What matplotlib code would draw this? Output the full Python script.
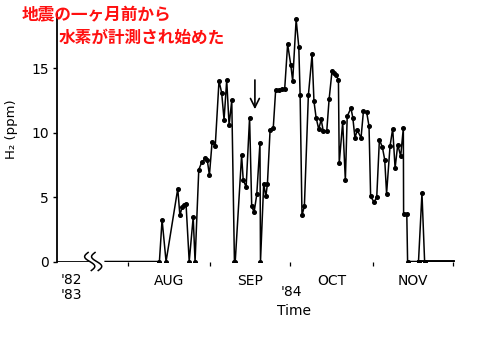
import matplotlib
matplotlib.use('Agg')
import matplotlib.pyplot as plt
import numpy as np

# days since 1 Aug 1984
days = [-8.6, 11.8, 12.8, 14.3, 18.7, 19.5, 20.3, 21.1, 21.8, 23.0, 24.5, 25.2,
        26.6, 27.7, 29.1, 29.8, 30.6, 31.6, 32.8, 34.2, 35.2, 36.1, 37.1, 38.0,
        39.0, 40.0, 40.3, 42.7, 43.3, 44.4, 45.7, 46.5, 47.4, 48.4, 49.6, 49.8,
        51.0, 51.8, 52.4, 53.4, 54.6, 55.5, 56.9, 57.9, 58.9, 60.0, 61.2, 61.9,
        63.2, 64.2, 64.7, 65.4, 66.3, 67.8, 69.2, 69.9, 70.7, 71.7, 72.6, 73.4,
        74.7, 75.6, 76.7, 77.4, 78.2, 79.1, 79.4, 80.7, 81.7, 82.4, 83.8, 84.5,
        85.3, 86.2, 87.6, 88.5, 89.7, 90.6, 91.2, 92.5, 93.5, 94.5, 95.6, 96.5,
        97.2, 98.5, 99.5, 100.4, 101.4, 102.5, 103.5, 103.6, 104.8, 105.1, 109.2,
        110.5, 111.5, 122.2]
h2 = [0, 0, 3.24, 0, 5.65, 3.57, 4.2, 4.4, 4.5, 0, 3.44, 0,
      7.12, 7.7, 8.0, 7.85, 6.7, 9.27, 9.0, 14.0, 13.1, 11.0, 14.06, 10.57,
      12.5, 0, 0, 8.24, 6.35, 5.77, 11.17, 4.27, 3.83, 5.2, 9.19, 0,
      6.04, 5.05, 6.0, 10.18, 10.36, 13.3, 13.3, 13.35, 13.4, 16.86, 15.23, 14.0,
      18.78, 16.65, 12.9, 3.57, 4.3, 12.9, 16.08, 12.43, 11.17, 10.26, 11.03, 10.12,
      10.1, 12.6, 14.8, 14.6, 14.5, 14.06, 7.64, 10.82, 6.29, 11.27, 11.9, 11.17,
      9.6, 10.18, 9.6, 11.66, 11.6, 10.5, 5.05, 4.6, 5.0, 9.45, 8.88, 7.9,
      5.26, 8.96, 10.3, 7.25, 9.07, 8.16, 10.36, 3.7, 3.65, 0, 0,
      5.3, 0, 0]

early_days = [-26.7, -15.5]   # '82-'83 baseline before the axis break
early_h2 = [0, 0]

month_edges = [0, 31, 61, 92, 122]
month_mid = [15.5, 46, 76.5, 107]
month_labels = ['AUG', 'SEP', 'OCT', 'NOV']
y_ticks = [0, 5, 10, 15]
quake_day = 47.7

fig = plt.figure(figsize=(5.0, 3.39), dpi=100)
ax = fig.add_axes([0.114, 0.2286, 0.806, 0.730])
ax.set_xlim(-26.7, 124.8)
ax.set_ylim(0, 19.2)

for s in ['top', 'right', 'bottom']:
    ax.spines[s].set_visible(False)
ax.spines['left'].set_linewidth(1.3)

ax.plot(days, h2, color='black', lw=1.1, zorder=3)
ax.plot(days[1:-1], h2[1:-1], 'o', color='black', ms=2.6, zorder=4)
ax.plot(early_days, early_h2, color='black', lw=2.0, zorder=3)
ax.plot([days[-4], days[-1]], [0, 0], color='black', lw=2.8, zorder=3)

# axis break symbol
for off in [0.0, 2.6]:
    t = np.linspace(0, 1, 40)
    xs = -13.8 + off + 1.6 * np.sin(2 * np.pi * t) - 1.2 * t
    ys = -0.7 + 1.4 * t
    ax.plot(xs, ys, color='black', lw=1.1, clip_on=False, zorder=5)

ax.set_yticks(y_ticks)
ax.set_yticklabels([str(v) for v in y_ticks], fontsize=10)
ax.tick_params(axis='y', direction='out', length=3, width=1, pad=3)

ax.set_xticks(month_edges)
ax.set_xticklabels([''] * len(month_edges))
ax.set_xticks(month_mid, minor=True)
ax.set_xticklabels(month_labels, minor=True, fontsize=10)
ax.tick_params(axis='x', which='major', direction='out', length=3, width=0.9)
ax.tick_params(axis='x', which='minor', length=0, pad=9)

ax.text(-21.3, -1.45, "'82", ha='center', va='center', fontsize=10)
ax.text(-21.3, -2.6, "'83", ha='center', va='center', fontsize=10)
ax.text(61.3, -2.35, "'84", ha='center', va='center', fontsize=10)
ax.text(62.5, -3.85, "Time", ha='center', va='center', fontsize=10)
fig.text(0.024, 0.62, 'H₂ (ppm)', rotation=90, ha='center', va='center',
         fontsize=9.5)

ax.annotate('', xy=(quake_day, 11.6), xytext=(quake_day, 14.3),
            arrowprops=dict(arrowstyle='->', lw=1.2, color='black',
                            mutation_scale=16))

jp = ['Noto Sans CJK JP', 'DejaVu Sans']
fig.text(0.044, 0.955, '地震の一ヶ月前から', color='#ff1010', fontsize=12,
         fontweight='bold', family=jp, ha='left', va='center')
fig.text(0.118, 0.890, '水素が計測され始めた', color='#ff1010', fontsize=12,
         fontweight='bold', family=jp, ha='left', va='center')

fig.savefig('out.png', dpi=100)
